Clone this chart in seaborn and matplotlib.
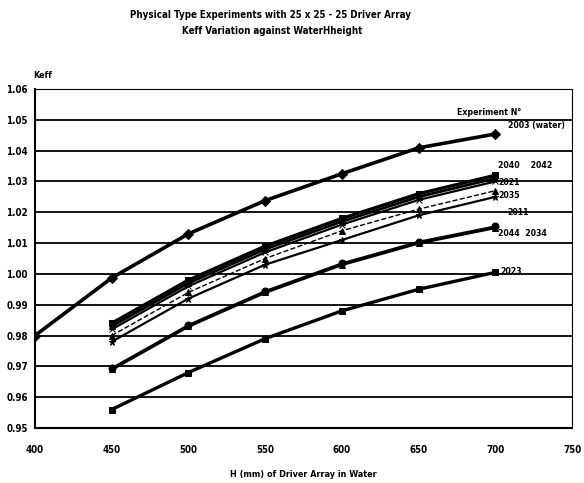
import numpy as np
import pandas as pd
import matplotlib
matplotlib.use("Agg")
import matplotlib.pyplot as plt
import seaborn as sns

# water height (mm) and Keff
h_2003 = [400, 450, 500, 550, 600, 650, 700]
k_2003 = [0.980, 0.9987, 1.013, 1.0238, 1.0325, 1.0409, 1.0454]

h_exp = [450, 500, 550, 600, 650, 700]
k_2040 = [0.984, 0.998, 1.009, 1.018, 1.026, 1.032]
k_2042 = [0.983, 0.997, 1.008, 1.017, 1.025, 1.031]
k_2021 = [0.982, 0.996, 1.007, 1.016, 1.024, 1.030]
k_2035 = [0.980, 0.994, 1.005, 1.014, 1.021, 1.027]
k_2011 = [0.978, 0.992, 1.003, 1.011, 1.019, 1.025]
k_2044 = [0.969, 0.983, 0.994, 1.003, 1.010, 1.015]
k_2034 = [0.9695, 0.9835, 0.9945, 1.0035, 1.0105, 1.0155]
k_2023 = [0.956, 0.968, 0.979, 0.988, 0.995, 1.0005]

x_ticks = [400, 450, 500, 550, 600, 650, 700, 750]
y_ticks = [0.95, 0.96, 0.97, 0.98, 0.99, 1.00, 1.01, 1.02, 1.03, 1.04, 1.05, 1.06]

# (name, heights, keff, marker, linewidth, linestyle)
series = [
    ("2003", h_2003, k_2003, "D", 2.6, "-"),
    ("2040", h_exp, k_2040, "s", 2.4, "-"),
    ("2042", h_exp, k_2042, "^", 2.0, "-"),
    ("2021", h_exp, k_2021, "x", 1.6, "-"),
    ("2035", h_exp, k_2035, "^", 1.0, "--"),
    ("2011", h_exp, k_2011, "*", 1.6, "-"),
    ("2044", h_exp, k_2044, "^", 2.2, "-"),
    ("2034", h_exp, k_2034, "o", 1.2, "-"),
    ("2023", h_exp, k_2023, "s", 2.4, "-"),
]

# text labels placed at the right end of the curves (data coords)
labels = [
    ("Experiment N°", 675, 1.0525),
    ("2003 (water)", 708, 1.0483),
    ("2040    2042", 702, 1.0353),
    ("2021", 702, 1.0295),
    ("2035", 702, 1.0256),
    ("2011", 708, 1.0200),
    ("2044  2034", 702, 1.0132),
    ("2023", 703, 1.0009),
]

sns.set_style("white")
plt.rcParams['font.family'] = ['DejaVu Sans']
plt.rcParams['font.stretch'] = 'condensed'
plt.rcParams['font.weight'] = 'bold'
for key in ['text.color', 'axes.labelcolor', 'xtick.color', 'ytick.color']:
    plt.rcParams[key] = 'black'

fig = plt.figure(figsize=(5.84, 4.83), dpi=100)
ax = fig.add_axes([35 / 584, 1 - 428 / 483, 537 / 584, 339 / 483])

for name, hx, ky, mk, lw, ls in series:
    sns.lineplot(x=hx, y=ky, ax=ax, color="black", linewidth=lw, linestyle=ls,
                 marker=mk, markersize=5, markeredgecolor="black",
                 markerfacecolor="black", zorder=3)

for txt, lx, ly in labels:
    ax.text(lx, ly, txt, fontsize=6.3, fontweight="bold", va="center", ha="left")

ax.set_xlim(400, 750)
ax.set_ylim(0.95, 1.06)
ax.set_xticks(x_ticks)
ax.set_yticks(y_ticks)
ax.set_xticklabels([str(v) for v in x_ticks], fontsize=7, fontweight="bold")
ax.set_yticklabels([f"{v:.2f}" for v in y_ticks], fontsize=7, fontweight="bold")
ax.tick_params(axis="y", direction="out", length=3, width=1, pad=2)
ax.tick_params(axis="x", direction="out", length=3, width=1, pad=9)

for v in y_ticks[1:-1]:
    ax.axhline(v, color="black", linewidth=1.3, zorder=1)

for side in ["left", "bottom"]:
    ax.spines[side].set_color("black")
    ax.spines[side].set_linewidth(1.5)
for side in ["top", "right"]:
    ax.spines[side].set_color("black")
    ax.spines[side].set_linewidth(0.8)
    ax.spines[side].set_linestyle((0, (1, 1)))

ax.set_xlabel("H (mm) of Driver Array in Water", fontsize=6.5, fontweight="bold", labelpad=11)
ax.set_ylabel("")
fig.text(33 / 584, 1 - 76 / 483, "Keff", fontsize=6.5, fontweight="bold", ha="left", va="center")

fig.text(270 / 584, 1 - 15 / 483, "Physical Type Experiments with 25 x 25 - 25 Driver Array",
         fontsize=7, fontweight="bold", ha="center", va="center")
fig.text(272 / 584, 1 - 31 / 483, "Keff Variation against WaterHheight",
         fontsize=7, fontweight="bold", ha="center", va="center")

fig.savefig("out.png", dpi=100)
